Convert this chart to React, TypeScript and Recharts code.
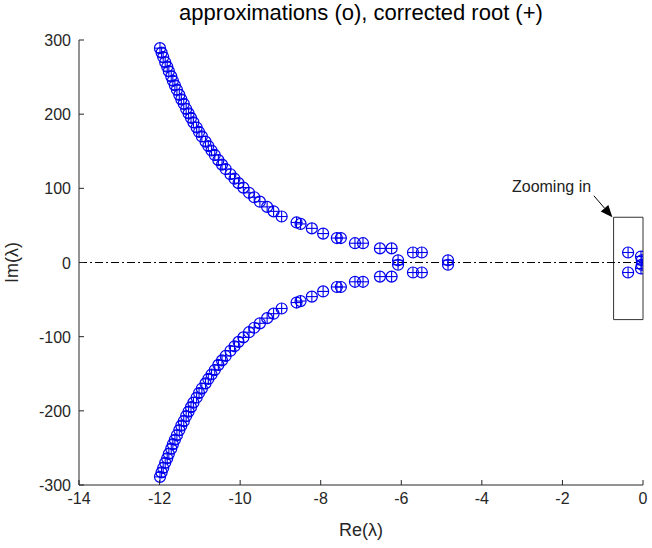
import { ScatterChart, Scatter, XAxis, YAxis, ReferenceLine, ReferenceArea, ReferenceDot } from 'recharts';

// roots in the upper half plane (the lower half is the conjugate set)
const rootRe = [
  -11.99, -11.95, -11.91, -11.86, -11.81, -11.77, -11.71, -11.67, -11.62, -11.57,
  -11.51, -11.46, -11.4, -11.34, -11.28, -11.22, -11.16, -11.08, -11.02, -10.95,
  -10.86, -10.79, -10.71, -10.63, -10.54, -10.45, -10.36, -10.24, -10.14, -10.04,
  -9.92, -9.78, -9.65, -9.51, -9.33, -9.17, -8.97, -8.6, -8.5, -8.22,
  -7.94, -7.6, -7.5, -7.15, -6.95, -6.53, -6.24, -6.08, -5.71, -5.49,
  -4.84, -0.37, -0.05, -0.03,
];
const rootIm = [
  289, 283, 277, 270, 264, 258, 251, 245, 239, 233,
  226, 220, 214, 207, 201, 195, 189, 182, 176, 170,
  163, 157, 151, 145, 138, 132, 126, 119, 113, 107,
  101, 94, 88, 82, 75, 69, 62, 54, 52, 46,
  39, 33, 33, 26, 26, 19, 19, 3, 13.5, 13.5,
  3, 13.5, 8, 3,
];

const xTicks = [-14, -12, -10, -8, -6, -4, -2, 0];
const yTicks = [-300, -200, -100, 0, 100, 200, 300];

// zoom box and annotation (data units)
const zoomBox = { x1: -0.73, x2: 0, y1: -77, y2: 61 };
const arrowFrom = { x: -1.22, y: 90 };
const arrowTo = { x: -0.76, y: 61 };
const noteAt = { x: -2.27, y: 103 };

const points = rootRe.flatMap((re, i) => [
  { re, im: rootIm[i] },
  { re, im: -rootIm[i] },
]);

const FONT = '"Liberation Sans", Arial, Helvetica, sans-serif';
const AXIS = '#262626';
const BLUE = '#0000ee';

function RootMarker(props: any) {
  const { cx, cy } = props;
  const r = 5.5;
  return (
    <g>
      <circle cx={cx} cy={cy} r={r} fill="none" stroke={BLUE} strokeWidth={1.2} />
      <line x1={cx - r} y1={cy} x2={cx + r} y2={cy} stroke={BLUE} strokeWidth={1.1} />
      <line x1={cx} y1={cy - r} x2={cx} y2={cy + r} stroke={BLUE} strokeWidth={1.1} />
    </g>
  );
}

function XTick(props: any) {
  const { x, y, payload } = props;
  return (
    <g>
      <line x1={x} y1={y} x2={x} y2={y - 5} stroke={AXIS} />
      <text x={x} y={y + 19} textAnchor="middle" fontSize={16} fontFamily={FONT} fill={AXIS}>
        {payload.value}
      </text>
    </g>
  );
}

function YTick(props: any) {
  const { x, y, payload } = props;
  return (
    <g>
      <line x1={x} y1={y} x2={x + 5} y2={y} stroke={AXIS} />
      <text x={x - 8} y={y + 6} textAnchor="end" fontSize={16} fontFamily={FONT} fill={AXIS}>
        {payload.value}
      </text>
    </g>
  );
}

function Arrow(props: any) {
  const { x1, y1, x2, y2 } = props;
  const a = Math.atan2(y2 - y1, x2 - x1);
  const len = 12;
  const w = 5;
  const bx = x2 - len * Math.cos(a);
  const by = y2 - len * Math.sin(a);
  const px = -Math.sin(a) * w;
  const py = Math.cos(a) * w;
  return (
    <g>
      <line x1={x1} y1={y1} x2={bx} y2={by} stroke="#000" strokeWidth={1} />
      <polygon points={`${x2},${y2} ${bx + px},${by + py} ${bx - px},${by - py}`} fill="#000" />
    </g>
  );
}

export default function App() {
  return (
    <div style={{ position: 'absolute', left: 0, top: 0, width: 652, height: 548, background: '#fff', fontFamily: FONT }}>
      <div
        style={{
          position: 'absolute',
          left: 79,
          width: 564,
          top: 0,
          textAlign: 'center',
          fontSize: 22,
          lineHeight: '26px',
          color: '#000',
        }}
      >
        approximations (o), corrected root (+)
      </div>
      <ScatterChart width={652} height={548} margin={{ top: 40, right: 9, bottom: 0, left: 0 }}>
        <XAxis
          type="number"
          dataKey="re"
          domain={[-14, 0]}
          ticks={xTicks}
          height={63}
          tickSize={0}
          tickMargin={0}
          tickLine={false}
          tick={<XTick />}
          stroke={AXIS}
          allowDataOverflow
          label={{ value: 'Re(λ)', position: 'insideBottom', offset: 12, style: { fontSize: 18, fontFamily: FONT, fill: AXIS } }}
        />
        <YAxis
          type="number"
          dataKey="im"
          domain={[-300, 300]}
          ticks={yTicks}
          width={79}
          tickSize={0}
          tickMargin={0}
          tickLine={false}
          tick={<YTick />}
          stroke={AXIS}
          allowDataOverflow
          label={{
            value: 'Im(λ)',
            angle: -90,
            position: 'insideLeft',
            offset: 12,
            style: { fontSize: 18, fontFamily: FONT, fill: AXIS, textAnchor: 'middle' },
          }}
        />
        <ReferenceLine y={0} stroke="#000" strokeWidth={1} strokeDasharray="8 3 2 3" />
        <ReferenceArea
          x1={zoomBox.x1}
          x2={zoomBox.x2}
          y1={zoomBox.y1}
          y2={zoomBox.y2}
          fill="none"
          fillOpacity={0}
          stroke="#333"
          strokeWidth={1}
        />
        <ReferenceLine
          segment={[arrowFrom, arrowTo]}
          stroke="#000"
          shape={(p: any) => <Arrow {...p} />}
        />
        <ReferenceDot
          x={noteAt.x}
          y={noteAt.y}
          r={0}
          fill="none"
          stroke="none"
          label={{ value: 'Zooming in', position: 'center', style: { fontSize: 16, fontFamily: FONT, fill: '#222' } }}
        />
        <Scatter data={points} shape={<RootMarker />} isAnimationActive={false} />
      </ScatterChart>
    </div>
  );
}
